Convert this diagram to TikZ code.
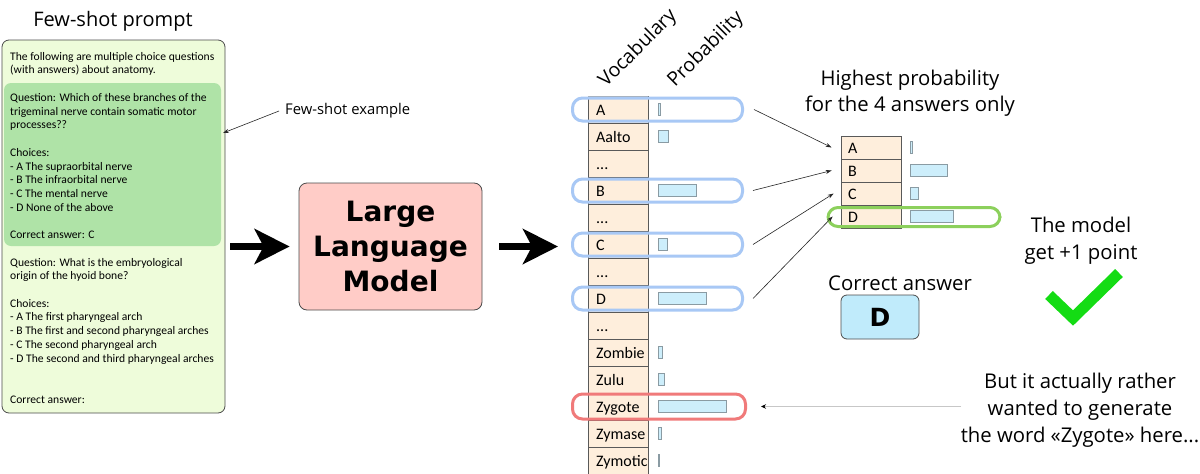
\documentclass[tikz,border=0pt]{standalone}
\usepackage{fontspec}
\setmainfont{Open Sans}
\newfontfamily\promptfont{Carlito}
\newfontfamily\heavyfont{DejaVu Sans}
\usetikzlibrary{arrows.meta}
\newcommand\mydots{...}
\definecolor{promptbg}{HTML}{EEFCDA}
\definecolor{examplebg}{HTML}{AFE3A7}
\definecolor{llmbg}{HTML}{FFCCC7}
\definecolor{vocabbg}{HTML}{FEEEDC}
\definecolor{barbg}{HTML}{CDEEFB}
\definecolor{barline}{HTML}{8A9BA3}
\definecolor{hlblue}{HTML}{A8C8F5}
\definecolor{hlred}{HTML}{F07A7A}
\definecolor{hlgreen}{HTML}{8CD05C}
\definecolor{checkgreen}{HTML}{14DC14}
\definecolor{ansbg}{HTML}{C0EBFB}
\begin{document}
\begin{tikzpicture}[x=1pt,y=-1pt,
  boxline/.style={draw=black!70,line width=0.8pt},
  vrow/.style={draw=black!65,fill=vocabbg,line width=0.7pt,minimum width=60pt,minimum height=27pt,inner sep=0pt},
  srow/.style={draw=black!65,fill=vocabbg,line width=0.7pt,minimum width=60pt,minimum height=23pt,inner sep=0pt},
  vtext/.style={font=\promptfont\fontsize{16}{16}\selectfont,anchor=base west,inner sep=0pt},
  pbar/.style={draw=barline,fill=barbg,line width=0.6pt,minimum height=12pt,inner sep=0pt,anchor=west},
  hl/.style={rounded corners=10pt,line width=3pt,minimum width=170pt,minimum height=23pt,inner sep=0pt},
  thinarrow/.style={-{Stealth[length=6pt,width=4pt]},line width=0.6pt,draw=black!85},
  bigarrow/.style={-{Stealth[length=35pt,width=35pt,inset=9pt]},line width=7pt},
  label/.style={font=\fontsize{20.3}{27}\selectfont,align=center,inner sep=0pt}
]
\path[use as bounding box,fill=white] (0,0) rectangle (1200,474);

% prompt
\node[font=\fontsize{20}{24}\selectfont,inner sep=0pt] (title) at (113,21) {Few-shot prompt};
\node[boxline,fill=promptbg,rounded corners=7pt,minimum width=223pt,minimum height=373pt,inner sep=0pt] (prompt) at (113.5,226.5) {};
\node[fill=examplebg,rounded corners=7pt,minimum width=217pt,minimum height=163pt,inner sep=0pt] (example) at (112.5,164.5) {};
\node[anchor=north west,inner sep=0pt,align=left,font=\promptfont\fontsize{11.6}{13.72}\selectfont] (ptext) at (10,52) {%
The following are multiple choice questions\\
(with answers) about anatomy.\\
\mbox{}\\
Question: Which of these branches of the\\
trigeminal nerve contain somatic motor\\
processes??\\
\mbox{}\\
Choices:\\
- A The supraorbital nerve\\
- B The infraorbital nerve\\
- C The mental nerve\\
- D None of the above\\
\mbox{}\\
Correct answer: C\\
\mbox{}\\
Question: What is the embryological\\
origin of the hyoid bone?\\
\mbox{}\\
Choices:\\
- A The first pharyngeal arch\\
- B The first and second pharyngeal arches\\
- C The second pharyngeal arch\\
- D The second and third pharyngeal arches\\
\mbox{}\\
\mbox{}\\
Correct answer:};
\node[font=\fontsize{14.8}{16}\selectfont,anchor=west,inner sep=0pt] (fewlbl) at (285,111) {Few-shot example};
\coordinate (exin) at (223,133);
\draw[thinarrow] ([xshift=-6pt]fewlbl.west) -- (exin);

% LLM
\node[boxline,fill=llmbg,rounded corners=8pt,minimum width=183pt,minimum height=127pt,inner sep=0pt,
  font=\heavyfont\bfseries\fontsize{28}{35}\selectfont,align=center] (llm) at (390.5,246.5) {Large\\Language\\Model};
\coordinate (a1s) at (230,246.5);
\draw[bigarrow] (a1s) -- ([xshift=-9pt]llm.west);
\coordinate (a2e) at (558,246.5);
\draw[bigarrow] ([xshift=17pt]llm.east) -- (a2e);

% vocabulary
\node[font=\fontsize{19.5}{19.5}\selectfont,rotate=45,anchor=base west,inner sep=0pt] (hvoc) at (606,88) {Vocabulary};
\node[font=\fontsize{19.5}{19.5}\selectfont,rotate=45,anchor=base west,inner sep=0pt] (hprob) at (675,88) {Probability};
\foreach \i/\w/\t in {0/A/2,1/Aalto/10,2/\mydots/0,3/B/38,4/\mydots/0,5/C/9,6/\mydots/0,7/D/48,8/\mydots/0,9/Zombie/4,10/Zulu/6,11/Zygote/68,12/Zymase/3,13/Zymotic/1.2}{
  \node[vrow] (v\i) at (618,{109.5+27*\i}) {};
  \node[vtext] (vt\i) at (596,{115.5+27*\i}) {\w};
  \ifdim\t pt>0pt
    \node[pbar,minimum width=\t pt] (b\i) at (658,{109.5+27*\i}) {};
  \fi
}
\fill[black!35] (588,95.5) rectangle (648,98);
\node[hl,draw=hlblue] (hA) at (657.5,109.5) {};
\node[hl,draw=hlblue] (hB) at (657.5,190.5) {};
\node[hl,draw=hlblue] (hC) at (657.5,244.5) {};
\node[hl,draw=hlblue] (hD) at (657.5,298.5) {};
\node[hl,draw=hlred,minimum width=173pt,minimum height=25pt] (hZ) at (659,406.5) {};

% small table
\node[label,font=\fontsize{20.3}{26}\selectfont] (hip) at (910,93) {Highest probability\\for the 4 answers only};
\foreach \n/\w/\t [count=\k from 0] in {sA/A/2,sB/B/37,sC/C/8,sD/D/43}{
  \node[srow] (\n) at (871,{147.5+23*\k}) {};
  \node[vtext] (\n t) at (848,{153+23*\k}) {\w};
  \node[pbar,minimum width=\t pt] (\n b) at (910,{147.5+23*\k}) {};
}
\node[hl,draw=hlgreen,minimum width=172pt,minimum height=19pt] (hG) at (914,217) {};
\draw[thinarrow] ([xshift=10pt]hA.east) -- ([xshift=-9pt]sA.west);
\draw[thinarrow] ([xshift=9pt]hB.east) -- ([xshift=-9pt]sB.west);
\draw[thinarrow] ([xshift=9pt]hC.east) -- ([xshift=-7pt]sC.west);
\draw[thinarrow] ([xshift=9pt]hD.east) -- ([xshift=-8pt]sD.west);

% correct answer
\node[label] (calbl) at (900,283) {Correct answer};
\node[boxline,fill=ansbg,rounded corners=6pt,minimum width=78pt,minimum height=44pt,inner sep=0pt,
  font=\heavyfont\bfseries\fontsize{25}{25}\selectfont] (ans) at (880,317) {D};

% model gets point
\node[label] (pt) at (1081,240.5) {The model\\get +1 point};
\draw[checkgreen,line width=11pt,miter limit=10] (1049,295) -- (1073,318) -- (1119,273);

% zygote remark
\node[label] (zyg) at (1080,410) {But it actually rather\\wanted to generate\\the word «Zygote» here...};
\coordinate (zs) at (961,406.5);
\draw[draw=black!22,line width=1.2pt,-{Stealth[length=5pt,width=4.5pt,black]}] (zs) -- ([xshift=14pt]hZ.east);
\end{tikzpicture}
\end{document}
